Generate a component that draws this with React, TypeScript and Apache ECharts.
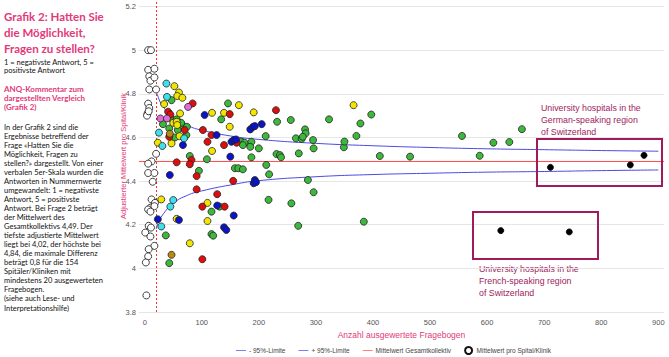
import React, { useEffect, useRef } from "react";
import * as echarts from "echarts";

// ---- data ----
const xTickValues = [0, 100, 200, 300, 400, 500, 600, 700, 800, 900];
const yTickValues = [3.8, 4, 4.2, 4.4, 4.6, 4.8, 5, 5.2];
const overallMean = 4.49;
const minQuestionnaires = 20;

const limitN = [20, 22, 30, 50, 75, 100, 150, 200, 300, 400, 500, 600, 700, 800, 900];
const lowerLimit = [4.18, 4.199, 4.24, 4.298, 4.335, 4.355, 4.382, 4.402, 4.42, 4.43, 4.436, 4.441, 4.444, 4.448, 4.451];
const upperLimit = [4.81, 4.797, 4.75, 4.692, 4.655, 4.633, 4.607, 4.591, 4.573, 4.562, 4.554, 4.548, 4.544, 4.54, 4.537];

const whitePts = [
  [6, 5.0], [11, 5.0], [6, 4.91], [17, 4.915], [8, 4.88], [10, 4.86], [17, 4.875], [8, 4.82], [20, 4.82],
  [6, 4.755], [8, 4.735], [5, 4.71], [4, 4.7], [7, 4.72], [20, 4.525], [12, 4.49], [6, 4.48], [6, 4.437],
  [17, 4.437], [14, 4.397], [12, 4.316], [18, 4.3], [10, 4.278], [6, 4.27], [17, 4.285], [10, 4.26],
  [7, 4.195], [11, 4.187], [1, 4.164], [10, 4.146], [17, 4.103], [7, 4.088], [6, 4.055], [2, 4.027], [3, 3.876],
];
const greenPts = [
  [47, 4.771], [45, 4.69], [32, 4.661], [43, 4.641], [67, 4.652], [74, 4.649], [56, 4.683], [64, 4.667],
  [73, 4.611], [53, 4.6], [58, 4.634], [79, 4.515], [109, 4.5], [95, 4.447], [134, 4.683], [146, 4.756],
  [158, 4.459], [164, 4.459], [172, 4.454], [170, 4.58], [175, 4.576], [172, 4.565], [187, 4.58], [185, 4.557],
  [200, 4.55], [187, 4.509], [212, 4.606], [213, 4.474], [218, 4.431], [232, 4.672], [256, 4.68], [231, 4.524],
  [237, 4.519], [239, 4.509], [265, 4.596], [275, 4.593], [281, 4.637], [282, 4.619], [277, 4.603], [295, 4.588],
  [296, 4.55], [270, 4.527], [323, 4.683], [286, 4.405], [296, 4.349], [217, 4.314], [257, 4.298], [269, 4.195],
  [131, 4.283], [117, 4.26], [117, 4.157], [120, 4.15], [37, 4.151], [43, 4.024],
  [349, 4.555], [350, 4.581], [371, 4.607], [378, 4.664], [397, 4.705], [412, 4.515], [465, 4.512],
  [556, 4.607], [587, 4.516], [611, 4.576], [639, 4.579], [661, 4.638], [384, 4.214],
];
const yellowPts = [
  [52, 4.835], [60, 4.806], [57, 4.79], [66, 4.782], [34, 4.753], [62, 4.71], [50, 4.667], [56, 4.672],
  [57, 4.657], [61, 4.606], [23, 4.576], [47, 4.573], [118, 4.713], [139, 4.713], [165, 4.748], [191, 4.715],
  [149, 4.649], [118, 4.538], [29, 4.316], [56, 4.227], [79, 4.115], [110, 4.3], [110, 4.217], [366, 4.748],
];
const redPts = [
  [41, 4.718], [45, 4.705], [84, 4.756], [43, 4.603], [70, 4.634], [102, 4.634], [117, 4.611], [110, 4.58],
  [139, 4.565], [149, 4.707], [161, 4.576], [230, 4.725], [56, 4.486], [82, 4.497], [79, 4.477], [91, 4.423],
  [91, 4.362], [101, 4.283], [101, 4.042], [127, 4.34], [140, 4.283], [155, 4.401],
];
const bluePts = [
  [105, 4.703], [126, 4.611], [67, 4.565], [150, 4.512], [152, 4.58], [156, 4.588], [160, 4.591], [185, 4.637],
  [190, 4.649], [193, 4.652], [205, 4.661], [44, 4.428], [23, 4.225], [60, 4.222], [127, 4.288], [139, 4.188],
  [143, 4.176], [156, 4.242], [191, 4.39], [193, 4.405], [195, 4.395],
];
const cyanPts = [[38, 4.847], [39, 4.786], [25, 4.622], [31, 4.561], [69, 4.596], [29, 4.192], [50, 4.313], [45, 4.283]];
const pinkPts = [[27.5, 4.687], [39, 4.687], [76, 4.74]];
const brownPts = [[44, 4.617], [47, 4.062]];
const universityPts = [[711, 4.463], [851, 4.474], [875, 4.518], [624, 4.173], [744, 4.167]];

const titleLines = ["Grafik 2: Hatten Sie", "die Möglichkeit,", "Fragen zu stellen?"];
const scaleLines = ["1 = negativste Antwort, 5 =", "positivste Antwort"];
const commentTitleLines = ["ANQ-Kommentar zum", "dargestellten Vergleich", "(Grafik 2)"];
const bodyLines = [
  "In der Grafik 2 sind die",
  "Ergebnisse betreffend der",
  "Frage «Hatten Sie die",
  "Möglichkeit, Fragen zu",
  "stellen?» dargestellt. Von einer",
  "verbalen 5er-Skala wurden die",
  "Antworten in Nummernwerte",
  "umgewandelt: 1 = negativste",
  "Antwort, 5 = positivste",
  "Antwort. Bei Frage 2 beträgt",
  "der Mittelwert des",
  "Gesamtkollektivs 4,49. Der",
  "tiefste adjustierte Mittelwert",
  "liegt bei 4,02, der höchste bei",
  "4,84, die maximale Differenz",
  "beträgt 0,8 für die 154",
  "Spitäler/Kliniken mit",
  "mindestens 20 ausgewerteten",
  "Fragebogen.",
  "(siehe auch Lese- und",
  "Interpretationshilfe)",
];
const germanNote = ["University hospitals in the", "German-speaking region", "of Switzerland"];
const frenchNote = ["University hospitals in the", "French-speaking region", "of Switzerland"];

const PINK = "#e2397a";
const NOTE = "#a01b5e";
const PANEL_FONT = "Lato, 'Noto Sans', sans-serif";
const CHART_FONT = "'Liberation Sans', Arial, sans-serif";
const LINE_ICON = "path://M0,0M0,10M0,4.3L20,4.3L20,5.7L0,5.7Z";

const X_MIN = -10;
const X_MAX = 910;

function textLines(lines: string[], x: number, y0: number, step: number, size: number, weight: string, color: string, family: string) {
  return lines.map((t, i) => ({
    type: "text",
    x,
    y: y0 + i * step,
    silent: true,
    style: { text: t, fill: color, fontSize: size, fontWeight: weight, fontFamily: family, verticalAlign: "middle", align: "left" },
  }));
}

function scatter(name: string, data: number[][], color: string, size = 7, border = "#222") {
  return {
    name,
    type: "scatter",
    data,
    symbol: "circle",
    symbolSize: size,
    itemStyle: { color, borderColor: border, borderWidth: 0.8, opacity: 1 },
    z: 5,
  };
}

export default function App() {
  const ref = useRef<HTMLDivElement>(null);
  useEffect(() => {
    if (!ref.current) return;
    const chart = echarts.init(ref.current, null, { renderer: "svg" });
    const lowerData = limitN.map((n, i) => [n, lowerLimit[i]]);
    const upperData = limitN.map((n, i) => [n, upperLimit[i]]);
    const meanData = [[X_MIN, overallMean], [X_MAX, overallMean]];
    chart.setOption({
      animation: false,
      backgroundColor: "#ffffff",
      textStyle: { fontFamily: CHART_FONT },
      grid: { left: 139, right: 5, top: 0, bottom: 45 },
      xAxis: {
        type: "value",
        min: X_MIN,
        max: X_MAX,
        name: "Anzahl ausgewertete Fragebogen",
        nameLocation: "middle",
        nameGap: 16,
        nameTextStyle: { color: PINK, fontSize: 8.5, fontFamily: CHART_FONT },
        axisLine: { show: false },
        axisTick: { show: false, customValues: xTickValues },
        axisLabel: { customValues: xTickValues, color: "#555", fontSize: 7.5, margin: 6, fontFamily: CHART_FONT },
        splitLine: { show: false },
      },
      yAxis: {
        type: "value",
        min: 3.8,
        max: 5.23,
        name: "Adjustierter Mittelwert pro Spital/Klinik",
        nameLocation: "middle",
        nameGap: 12,
        nameMoveOverlap: false,
        nameTextStyle: { color: PINK, fontSize: 7.5, fontFamily: CHART_FONT },
        axisLine: { show: false },
        axisTick: { show: false, customValues: yTickValues },
        axisLabel: { customValues: yTickValues, color: "#555", fontSize: 7.5, margin: 3, fontFamily: CHART_FONT },
        splitLine: { show: true, lineStyle: { color: "#e6e6e6", width: 1 } },
      },
      legend: {
        data: [
          { name: "- 95%-Limite", icon: LINE_ICON },
          { name: "+ 95%-Limite", icon: LINE_ICON },
          { name: "Mittelwert Gesamtkollektiv", icon: LINE_ICON },
          { name: "Mittelwert pro Spital/Klinik" },
        ],
        left: 231,
        top: 341,
        itemWidth: 10,
        itemHeight: 7,
        itemGap: 13,
        textStyle: { fontSize: 6.5, color: "#444", fontFamily: CHART_FONT, padding: [0, 0, 0, -2] },
      },
      series: [
        {
          name: "Mittelwert Gesamtkollektiv",
          type: "line",
          data: meanData,
          symbol: "none",
          lineStyle: { color: "#ff4b4b", width: 1 },
          itemStyle: { color: "#ff4b4b" },
          z: 2,
          markLine: {
            silent: true,
            symbol: ["none", "none"],
            label: { show: false },
            lineStyle: { color: "#ee3333", type: [2, 2], width: 1 },
            data: [{ xAxis: minQuestionnaires }],
          },
        },
        {
          name: "- 95%-Limite",
          type: "line",
          data: lowerData,
          smooth: true,
          symbol: "none",
          lineStyle: { color: "#4a4ae6", width: 1 },
          itemStyle: { color: "#4a4ae6" },
          z: 3,
        },
        {
          name: "+ 95%-Limite",
          type: "line",
          data: upperData,
          smooth: true,
          symbol: "none",
          lineStyle: { color: "#4a4ae6", width: 1 },
          itemStyle: { color: "#4a4ae6" },
          z: 3,
        },
        scatter("Mittelwert pro Spital/Klinik", whitePts, "#ffffff", 7, "#111"),
        scatter("green", greenPts, "#3db83d"),
        scatter("yellow", yellowPts, "#f2e600"),
        scatter("red", redPts, "#e00d0d"),
        scatter("blue", bluePts, "#0a14c8"),
        scatter("cyan", cyanPts, "#3fe0ee"),
        scatter("pink", pinkPts, "#e06ad8"),
        scatter("brown", brownPts, "#b88a10"),
        scatter("university", universityPts, "#000000", 6, "#000"),
      ],
      graphic: [
        ...textLines(titleLines, 4, 16, 16, 11.5, "bold", PINK, PANEL_FONT),
        ...textLines(scaleLines, 4, 62, 8.6, 7.5, "normal", "#111", PANEL_FONT),
        ...textLines(commentTitleLines, 4, 89, 9, 8, "bold", PINK, PANEL_FONT),
        ...textLines(bodyLines, 4, 127, 9.05, 7.5, "normal", "#111", PANEL_FONT),
        { type: "rect", shape: { x: 537, y: 139, width: 125, height: 47 }, style: { fill: "none", stroke: NOTE, lineWidth: 2 }, z: 10 },
        { type: "rect", shape: { x: 473, y: 212, width: 125, height: 47 }, style: { fill: "none", stroke: NOTE, lineWidth: 2 }, z: 10 },
        ...textLines(germanNote, 541, 108, 12, 8.8, "normal", NOTE, CHART_FONT),
        ...textLines(frenchNote, 479, 269, 12, 8.8, "normal", NOTE, CHART_FONT),
      ],
    });
    return () => chart.dispose();
  }, []);
  return <div ref={ref} style={{ position: "fixed", left: 0, top: 0, width: 669, height: 357, background: "#fff" }} />;
}
